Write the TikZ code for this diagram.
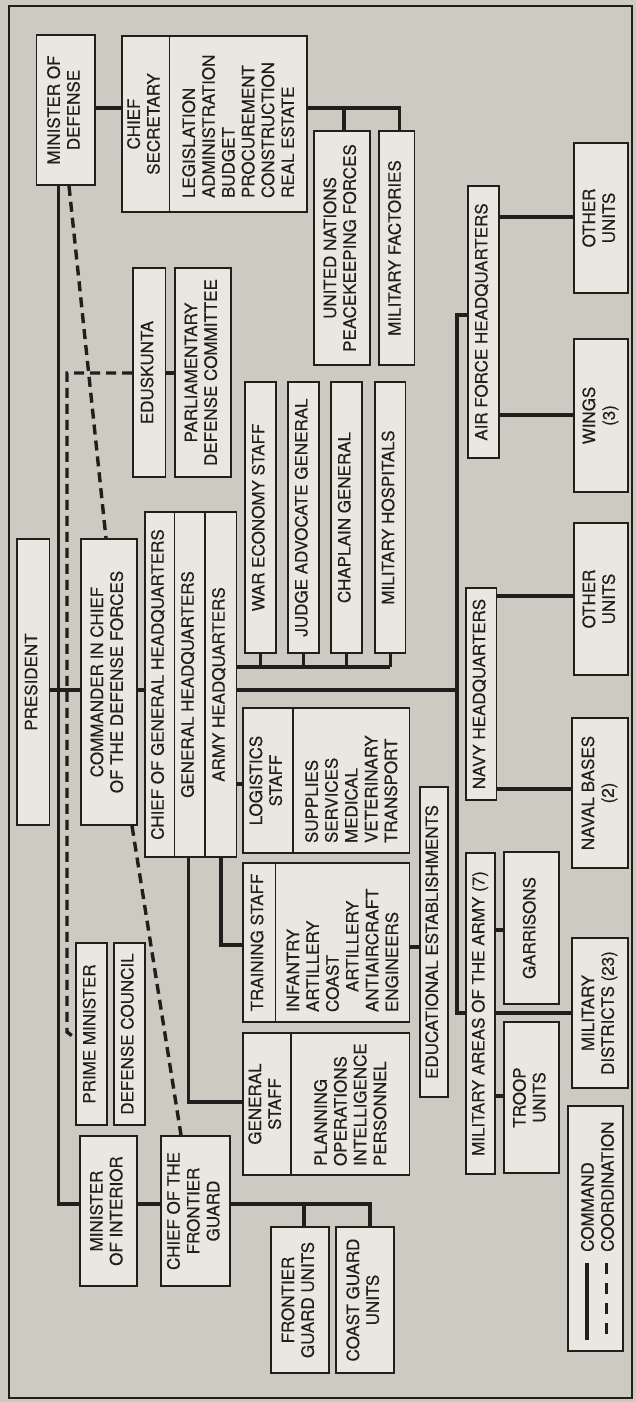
\documentclass[tikz,border=0pt]{standalone}
\usepackage{fontspec}
\setmainfont{TeX Gyre Heros}[FakeBold=0.35]
\usepackage{graphicx}
\definecolor{bg}{HTML}{CDCAC2}
\definecolor{boxfill}{HTML}{E9E7DF}
\definecolor{ink}{HTML}{211E1C}
\newcommand\rt[1]{\rotatebox{90}{\begin{tabular}{@{}c@{}}#1\end{tabular}}}
\newcommand\rl[2]{\rotatebox{90}{\parbox{#1}{\raggedright #2}}}
\newcommand\bx[6]{\node[box, minimum width={#3-#2}, minimum height={#5-#4}] (#1) at ({(#2+#3)/2},{(#4+#5)/2}) {#6};}
\begin{document}
\begin{tikzpicture}[x=1pt,y=-1pt,
  box/.style={draw=ink, fill=boxfill, line width=1.8pt, inner sep=0pt, text=ink},
  cmd/.style={draw=ink, line width=3.4pt},
  crd/.style={draw=ink, line width=3.4pt, dash pattern=on 10pt off 6pt},
  lbl/.style={anchor=south, inner sep=0pt, text=ink},
  font=\fontsize{17}{19.8}\selectfont]
\useasboundingbox (0,0) rectangle (636,1402);
\fill[bg] (0,0) rectangle (636,1402);
\draw[ink, line width=1.6pt] (9,6) rectangle (632,1398);

% boxes
\bx{mod}{36.5}{95}{35}{185}{\rt{MINISTER OF\\DEFENSE}}
\bx{csa}{122}{169.5}{36}{212}{\rt{CHIEF\\SECRETARY}}
\bx{csb}{169.5}{307}{36}{212}{\rl{148pt}{LEGISLATION\\ADMINISTRATION\\BUDGET\\PROCUREMENT\\CONSTRUCTION\\REAL ESTATE}}
\bx{un}{314}{370}{131}{365}{\rt{UNITED NATIONS\\PEACEKEEPING FORCES}}
\bx{mf}{379}{414.5}{131}{365}{\rt{MILITARY FACTORIES}}
\bx{afhq}{468}{499}{186}{458}{\rt{AIR FORCE HEADQUARTERS}}
\bx{oua}{574}{628}{143}{293}{\rt{OTHER\\UNITS}}
\bx{wings}{574}{628}{339}{492}{\rt{WINGS\\(3)}}
\bx{edu}{133}{165.5}{268}{477}{\rt{EDUSKUNTA}}
\bx{pdc}{175}{231}{268}{477}{\rt{PARLIAMENTARY\\DEFENSE COMMITTEE}}
\bx{wes}{245}{276}{382}{653}{\rt{WAR ECONOMY STAFF}}
\bx{jag}{288}{319}{382}{653}{\rt{JUDGE ADVOCATE GENERAL}}
\bx{chap}{331}{362}{382}{653}{\rt{CHAPLAIN GENERAL}}
\bx{mh}{375}{405.5}{382}{653}{\rt{MILITARY HOSPITALS}}
\bx{pres}{17}{49.5}{539}{825}{\rt{PRESIDENT}}
\bx{cic}{81}{137}{539}{825}{\rt{COMMANDER IN CHIEF\\OF THE DEFENSE FORCES}}
\bx{cghq}{145}{174.5}{512}{857}{\rt{CHIEF OF GENERAL HEADQUARTERS}}
\bx{ghq}{174.5}{205}{512}{857}{\rt{GENERAL HEADQUARTERS}}
\bx{ahq}{205}{236.5}{512}{857}{\rt{ARMY HEADQUARTERS}}
\bx{navy}{466}{496.5}{588}{800}{\rt{NAVY HEADQUARTERS}}
\bx{oub}{574}{628}{523}{675}{\rt{OTHER\\UNITS}}
\bx{nb}{572}{628}{718}{868}{\rt{NAVAL BASES\\(2)}}
\bx{lsa}{243}{293}{708}{853}{\rt{LOGISTICS\\STAFF}}
\bx{lsb}{293}{409.5}{708}{853}{\rl{125pt}{SUPPLIES\\SERVICES\\MEDICAL\\VETERINARY\\TRANSPORT}}
\bx{tsa}{243}{275.5}{863}{1022}{\rt{TRAINING STAFF}}
\bx{tsb}{275.5}{409.5}{863}{1022}{\rl{139pt}{INFANTRY\\ARTILLERY\\COAST\\\hspace*{20pt}ARTILLERY\\ANTIAIRCRAFT\\ENGINEERS}}
\bx{ee}{420}{448}{787}{1097}{\rt{EDUCATIONAL ESTABLISHMENTS}}
\bx{maa}{466}{495}{853}{1174}{\rt{MILITARY AREAS OF THE ARMY (7)}}
\bx{gar}{504}{559}{852}{1004}{\rt{GARRISONS}}
\bx{tu}{504}{559}{1022}{1173}{\rt{TROOP\\UNITS}}
\bx{md}{572}{628}{938}{1088}{\rt{MILITARY\\DISTRICTS (23)}}
\bx{pm}{76}{107}{943}{1125}{\rt{PRIME MINISTER}}
\bx{dc}{114}{145}{943}{1125}{\rt{DEFENSE COUNCIL}}
\bx{gsa}{243}{291}{1033}{1175}{\rt{GENERAL\\STAFF}}
\bx{gsb}{291}{409.5}{1033}{1175}{\rl{124pt}{PLANNING\\OPERATIONS\\INTELLIGENCE\\PERSONNEL}}
\bx{moi}{80}{137}{1136}{1286}{\rt{MINISTER\\OF INTERIOR}}
\bx{cfg}{161}{230}{1136}{1286}{\rt{CHIEF OF THE\\FRONTIER\\GUARD}}
\bx{fgu}{271}{329}{1227}{1373}{\rt{FRONTIER\\GUARD UNITS}}
\bx{cgu}{336}{394}{1227}{1373}{\rt{COAST GUARD\\UNITS}}
\bx{leg}{568}{623}{1106}{1351}{}

% command lines
\draw[cmd] (mod.east |- 0,108) -- (csa.west |- 0,108);
\draw[cmd] (csb.east |- 0,108) -| (mf.north -| 399.5,0);
\draw[cmd] (344,108) -- (un.north -| 344,0);
\draw[cmd] (pres.east |- 0,690) -- (cic.west |- 0,690);
\draw[cmd] (cic.east |- 0,690) -- (cghq.west |- 0,690);
\draw[cmd] (ahq.east |- 0,690) -- (457,690);
\draw[cmd] (afhq.west |- 0,315) -- (457,315) -- (457,1013) -- (maa.west |- 0,1013);
\draw[cmd] (ahq.east |- 0,667) -- (mh.south |- 0,667);
\draw[cmd] (wes.south) -- (wes.south |- 0,667);
\draw[cmd] (jag.south) -- (jag.south |- 0,667);
\draw[cmd] (chap.south) -- (chap.south |- 0,667);
\draw[cmd] (mh.south) -- (mh.south |- 0,667);
\draw[cmd] (ahq.east |- 0,784) -- (lsa.west |- 0,784);
\draw[cmd] (ahq.south -| 221,0) |- (tsa.west |- 0,945);
\draw[cmd] (ghq.south -| 188.5,0) |- (gsa.west |- 0,1102);
\draw[cmd] (tsb.east |- 0,947) -- (ee.west |- 0,947);
\draw[cmd] (afhq.east |- 0,217) -- (oua.west |- 0,217);
\draw[cmd] (afhq.east |- 0,415) -- (wings.west |- 0,415);
\draw[cmd] (navy.east |- 0,596) -- (oub.west |- 0,596);
\draw[cmd] (navy.east |- 0,789) -- (nb.west |- 0,789);
\draw[cmd] (maa.east |- 0,930) -- (gar.west |- 0,930);
\draw[cmd] (maa.east |- 0,1096) -- (tu.west |- 0,1096);
\draw[cmd] (maa.east |- 0,1013) -- (md.west |- 0,1013);
\draw[cmd] (mod.south -| 58.5,0) |- (moi.west |- 0,1204);
\draw[cmd] (moi.east |- 0,1204) -- (cfg.west |- 0,1204);
\draw[cmd] (cfg.east |- 0,1204) -| (cgu.north -| 370,0);
\draw[cmd] (304,1204) -- (fgu.north -| 304,0);

% coordination lines
\draw[crd] (mod.south -| 69,0) -- (cic.north -| 106,0);
\draw[crd] (cic.south -| 132,0) -- (cfg.north -| 181,0);
\draw[crd] (edu.west |- 0,373) -- (67,373) -- (67,1032) -- (pm.west |- 0,1038);
\draw[crd] (edu.east |- 0,373) -- (pdc.west |- 0,373);

% legend
\draw[cmd] (587,1263) -- (587,1340);
\draw[crd, dash pattern=on 11pt off 9pt] (606.5,1263) -- (606.5,1340);
\node[lbl] (lgc) at (587.5,1252) {\rotatebox{90}{COMMAND}};
\node[lbl] (lgd) at (607.5,1252) {\rotatebox{90}{COORDINATION}};
\end{tikzpicture}
\end{document}
